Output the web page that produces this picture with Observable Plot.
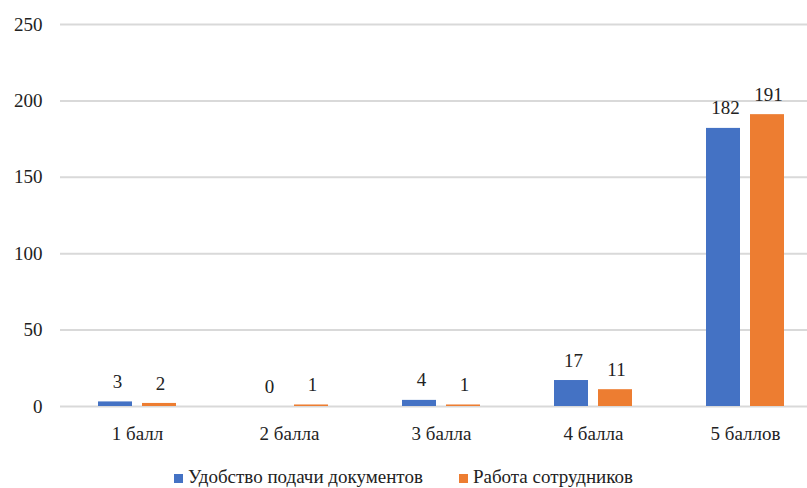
<!DOCTYPE html>
<html>
<head>
<meta charset="utf-8">
<script src="https://cdn.jsdelivr.net/npm/d3@7"></script>
<script src="https://cdn.jsdelivr.net/npm/@observablehq/plot@0.6"></script>
<style>
  body { margin: 0; padding: 0; background: #fff; overflow: hidden; font-family: 'Liberation Serif', 'Times New Roman', serif; }
  #chart svg { max-width: none; display: block; }
  #legend { position: absolute; left: 0; top: 467px; width: 807px; display: flex; justify-content: center; gap: 36px;
    font-size: 19px; color: #222; line-height: 19px; font-family: 'Liberation Serif', 'Times New Roman', serif; }
  .item { display: flex; align-items: center; }
  .sw { width: 9px; height: 9px; margin-right: 5px; margin-top: 3px; }
</style>
</head>
<body>
<div id="chart"></div>
<div id="legend"></div>
<script>
const categories = ["1 балл", "2 балла", "3 балла", "4 балла", "5 баллов"];
const seriesNames = ["Удобство подачи документов", "Работа сотрудников"];
const seriesColors = ["#4472C4", "#ED7D31"];
const convenience = [3, 0, 4, 17, 182];
const staff = [2, 1, 1, 11, 191];
const yTicks = [0, 50, 100, 150, 200, 250];

const rowsA = categories.map((c, i) => ({category: c, value: convenience[i]}));
const rowsB = categories.map((c, i) => ({category: c, value: staff[i]}));

const fontStack = "'Liberation Serif', 'Times New Roman', serif";

const plot = Plot.plot({
  width: 821,
  height: 450,
  marginLeft: 60,
  marginRight: 0,
  marginTop: 24,
  marginBottom: 44,
  style: {fontFamily: fontStack, fontSize: "19px", color: "#222", background: "#fff", maxWidth: "none"},
  x: {domain: categories, padding: 0, label: null, tickSize: 0, tickPadding: 20},
  y: {domain: [0, 250], ticks: yTicks, label: null, tickSize: 0, tickPadding: 18},
  marks: [
    Plot.ruleY(yTicks, {stroke: "#d9d9d9", strokeWidth: 2}),
    Plot.barY(rowsA, {x: "category", y: "value", fill: seriesColors[0], insetLeft: 37, insetRight: 81}),
    Plot.barY(rowsB, {x: "category", y: "value", fill: seriesColors[1], insetLeft: 81, insetRight: 37}),
    Plot.text(rowsA, {x: "category", y: "value", text: "value", dx: -20, dy: -20, lineAnchor: "middle", fill: "#222", fontSize: 19, fontFamily: "Liberation Serif"}),
    Plot.text(rowsB, {x: "category", y: "value", text: "value", dx: 23, dy: -20, lineAnchor: "middle", fill: "#222", fontSize: 19, fontFamily: "Liberation Serif"})
  ]
});
plot.setAttribute("font-family", "Liberation Serif");
plot.querySelectorAll("text").forEach(t => {
  t.setAttribute("font-family", "Liberation Serif");
  t.style.setProperty("font-family", fontStack, "important");
});
document.getElementById("chart").appendChild(plot);

const legend = document.getElementById("legend");
seriesNames.forEach((n, i) => {
  const it = document.createElement("div");
  it.className = "item";
  const sw = document.createElement("span");
  sw.className = "sw";
  sw.style.background = seriesColors[i];
  const t = document.createElement("span");
  t.textContent = n;
  t.style.setProperty("font-family", fontStack, "important");
  it.appendChild(sw); it.appendChild(t);
  legend.appendChild(it);
});
</script>
</body>
</html>
